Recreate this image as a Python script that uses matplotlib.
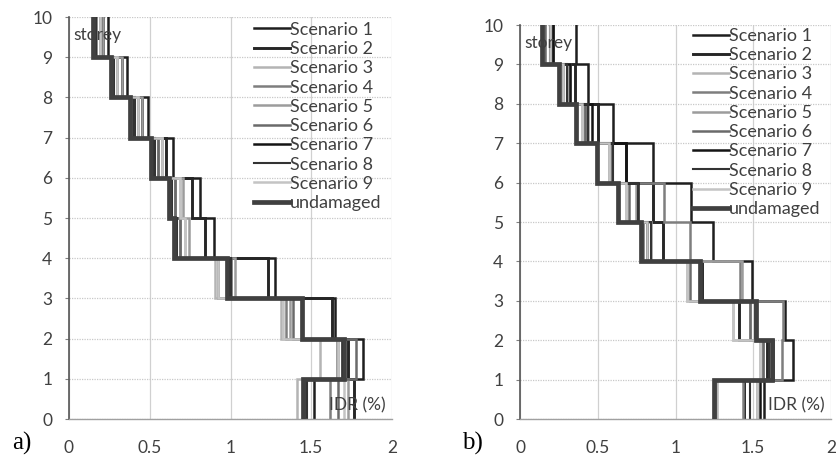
import matplotlib
matplotlib.use("Agg")
import matplotlib.pyplot as plt
import numpy as np

storeys = [1, 2, 3, 4, 5, 6, 7, 8, 9, 10]
labels = ["Scenario 1", "Scenario 2", "Scenario 3", "Scenario 4", "Scenario 5",
          "Scenario 6", "Scenario 7", "Scenario 8", "Scenario 9", "undamaged"]

# panel a) IDR (%) per storey (storey 1..10)
a_s1 = [1.52, 1.82, 1.65, 1.275, 0.895, 0.81, 0.646, 0.49, 0.357, 0.24]
a_s2 = [1.765, 1.73, 1.63, 1.235, 0.84, 0.76, 0.60, 0.45, 0.326, 0.21]
a_s3 = [1.41, 1.554, 1.31, 0.904, 0.72, 0.687, 0.574, 0.43, 0.295, 0.19]
a_s4 = [1.615, 1.657, 1.344, 0.925, 0.69, 0.656, 0.553, 0.43, 0.295, 0.19]
a_s5 = [1.73, 1.667, 1.368, 1.03, 0.74, 0.708, 0.574, 0.45, 0.326, 0.21]
a_s6 = [1.667, 1.78, 1.39, 1.0, 0.69, 0.656, 0.553, 0.39, 0.27, 0.17]
a_s7 = [1.455, 1.693, 1.44, 0.99, 0.66, 0.63, 0.52, 0.40, 0.27, 0.16]
a_s8 = [1.476, 1.70, 1.45, 1.0, 0.67, 0.64, 0.53, 0.41, 0.28, 0.17]
a_s9 = [1.70, 1.667, 1.327, 0.925, 0.72, 0.687, 0.574, 0.43, 0.295, 0.19]
a_und = [1.45, 1.70, 1.44, 0.98, 0.65, 0.62, 0.51, 0.38, 0.26, 0.15]

# panel b)
b_s1 = [1.569, 1.758, 1.704, 1.49, 1.243, 1.10, 0.857, 0.60, 0.44, 0.36]
b_s2 = [1.44, 1.586, 1.41, 1.168, 0.92, 0.853, 0.682, 0.504, 0.354, 0.214]
b_s3 = [1.269, 1.543, 1.372, 1.072, 0.815, 0.682, 0.574, 0.397, 0.279, 0.193]
b_s4 = [1.435, 1.683, 1.693, 1.415, 1.093, 0.928, 0.592, 0.418, 0.30, 0.193]
b_s5 = [1.522, 1.56, 1.479, 1.426, 0.84, 0.746, 0.574, 0.44, 0.32, 0.214]
b_s6 = [1.254, 1.56, 1.479, 1.093, 0.793, 0.703, 0.592, 0.418, 0.279, 0.16]
b_s7 = [1.543, 1.629, 1.511, 1.155, 0.815, 0.757, 0.682, 0.46, 0.32, 0.214]
b_s8 = [1.479, 1.60, 1.524, 1.16, 0.84, 0.757, 0.60, 0.44, 0.30, 0.193]
b_s9 = [1.522, 1.543, 1.372, 1.072, 0.815, 0.682, 0.574, 0.397, 0.279, 0.193]
b_und = [1.245, 1.62, 1.52, 1.155, 0.78, 0.632, 0.493, 0.36, 0.25, 0.14]

x_ticks = [0, 0.5, 1, 1.5, 2]
x_ticklabels = ["0", "0.5", "1", "1.5", "2"]
y_ticks = list(range(0, 11))

colors = ["#1e1e1e", "#262626", "#b4b4b4", "#7e7e7e", "#9c9c9c",
          "#6a6a6a", "#141414", "#333333", "#c4c4c4", "#404040"]
widths = [1.8, 2.1, 1.8, 1.8, 1.8, 1.8, 1.8, 1.5, 1.8, 3.4]

FONT = "Lato"
FS = 12.5


def step_path(vals):
    xs, ys = [], []
    for s, v in zip(storeys, vals):
        xs += [v, v]
        ys += [s - 1, s]
    return xs, ys


fig = plt.figure(figsize=(8.36, 4.59), dpi=100)
axA = fig.add_axes([69 / 836, 1 - 419 / 459, 323 / 836, 402 / 459])
axB = fig.add_axes([520 / 836, 1 - 419 / 459, 311 / 836, 394 / 459])

panels = [
    (axA, [a_s1, a_s2, a_s3, a_s4, a_s5, a_s6, a_s7, a_s8, a_s9, a_und], "a)", 12, (1.0, 1.015)),
    (axB, [b_s1, b_s2, b_s3, b_s4, b_s5, b_s6, b_s7, b_s8, b_s9, b_und], "b)", 462, (1.0, 1.02)),
]

for ax, series, tag, tagx, anchor in panels:
    for vals, lab, c, lw in zip(series, labels, colors, widths):
        xs, ys = step_path(vals)
        ax.plot(xs, ys, color=c, lw=lw, label=lab, solid_joinstyle="miter",
                zorder=3 if lab == "undamaged" else 2)
    ax.set_xlim(0, 2)
    ax.set_ylim(0, 10)
    ax.set_xticks(x_ticks)
    ax.set_xticklabels(x_ticklabels, fontfamily=FONT, fontsize=FS, color="#404040")
    ax.set_yticks(y_ticks)
    ax.set_yticklabels([str(t) for t in y_ticks], fontfamily=FONT, fontsize=FS, color="#404040")
    ax.tick_params(axis="x", length=0, pad=15)
    ax.tick_params(axis="y", length=3, pad=9, color="#808080")
    ax.xaxis.grid(True, color="#d0d0d0", lw=0.9, ls="-")
    ax.yaxis.grid(True, color="#c8c8c8", lw=0.9, ls=(0, (1, 1)))
    ax.set_axisbelow(True)
    for sp in ["top", "right"]:
        ax.spines[sp].set_visible(False)
    ax.spines["left"].set_color("#555555")
    ax.spines["left"].set_linewidth(1.2)
    ax.spines["bottom"].set_color("#a0a0a0")
    ax.spines["bottom"].set_linewidth(1.0)
    ax.text(0.03, 9.55, "storey", fontfamily=FONT, fontsize=FS, color="#404040",
            va="center", ha="left", zorder=4)
    ax.text(1.96, 0.35, "IDR (%)", fontfamily=FONT, fontsize=FS, color="#404040",
            va="center", ha="right", zorder=4)
    leg = ax.legend(loc="upper right", bbox_to_anchor=anchor, frameon=False,
                    prop={"family": FONT, "size": 13}, handlelength=2.0,
                    handletextpad=0.0, labelspacing=0.18, borderaxespad=0.2)
    for t in leg.get_texts():
        t.set_color("#404040")
    fig.text(tagx / 836, 1 - 443 / 459, tag, fontfamily="Liberation Serif",
             fontsize=18, va="center", ha="left", color="black")

fig.savefig("out.png", dpi=100)
